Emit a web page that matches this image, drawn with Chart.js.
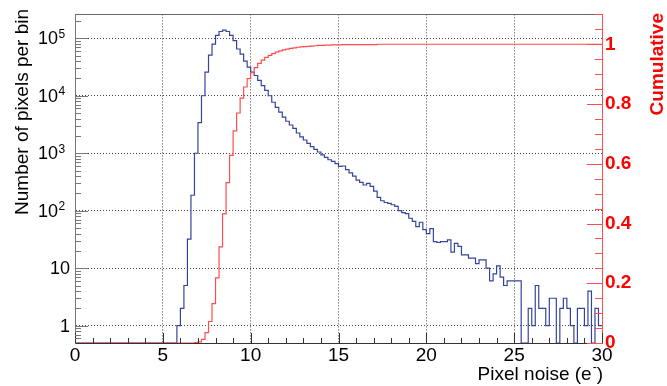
<!DOCTYPE html>
<html>
<head>
<meta charset="utf-8">
<script src="https://cdn.jsdelivr.net/npm/chart.js@4.4.1/dist/chart.umd.min.js"></script>
<style>
  html, body { margin: 0; padding: 0; background: #fff; }
  canvas { display: block; }
</style>
</head>
<body>
<canvas id="noise" width="667" height="386"></canvas>
<script>
// histogram range (pixel noise in e-), 150 bins of 0.2
const binLow = 0;
const binHigh = 30;

// number of pixels per bin
const pixelCounts = [
  0, 0, 0, 0, 0, 0, 0, 0, 0, 0,
  0, 0, 0, 0, 0, 0, 0, 0, 0, 0,
  0, 0, 0, 0, 0, 0, 0, 0, 0, 1,
  2, 5, 32, 186, 1000, 3400, 10000, 25700, 51000, 79000,
  112000, 131000, 139000, 131000, 112000, 91000, 65000, 53000, 40000, 31500,
  25700, 22500, 18500, 15000, 12400, 10000, 7700, 6300, 5200, 4250,
  3600, 3100, 2700, 2250, 1930, 1700, 1480, 1300, 1170, 1050,
  940, 850, 770, 720, 660, 590, 600, 520, 455, 400,
  340, 310, 280, 300, 265, 220, 170, 149, 139, 134,
  127, 119, 100, 93, 89, 74, 65, 53, 63, 47,
  40, 49, 29, 28, 29, 29, 31, 19, 27, 24,
  17, 17, 15, 15, 12, 14, 14, 10, 6, 8,
  11, 7, 5, 6, 6, 6, 6, 0, 0, 2,
  1, 5, 2, 2, 1, 3, 3, 0, 2, 3,
  2, 1, 0, 2, 2, 1, 4, 0, 2, 1
];

// cumulative fraction
const cumulative = [
  0, 0, 0, 0, 0, 0, 0, 0, 0, 0,
  0, 0, 0, 0, 0, 0, 0, 0, 0, 0,
  0, 0, 0, 0, 0, 0, 0, 0, 0, 0,
  0, 0, 0, 0, 0.001, 0.004, 0.012, 0.035, 0.072, 0.132,
  0.218, 0.322, 0.432, 0.537, 0.628, 0.71, 0.77, 0.82, 0.857, 0.885,
  0.905, 0.922, 0.936, 0.947, 0.956, 0.963, 0.969, 0.974, 0.978, 0.981,
  0.984, 0.986, 0.988, 0.99, 0.991, 0.992, 0.993, 0.994, 0.995, 0.996,
  0.996, 0.997, 0.997, 0.998, 0.998, 0.998, 0.999, 0.999, 0.999, 0.999,
  0.999, 0.999, 0.999, 0.999, 0.999, 0.999, 1, 1, 1, 1,
  1, 1, 1, 1, 1, 1, 1, 1, 1, 1,
  1, 1, 1, 1, 1, 1, 1, 1, 1, 1,
  1, 1, 1, 1, 1, 1, 1, 1, 1, 1,
  1, 1, 1, 1, 1, 1, 1, 1, 1, 1,
  1, 1, 1, 1, 1, 1, 1, 1, 1, 1,
  1, 1, 1, 1, 1, 1, 1, 1, 1, 1
];

const noiseTicks = [0, 5, 10, 15, 20, 25, 30];
const countTicks = [1, 10, 100, 1000, 10000, 100000];
const cumulativeTicks = [0, 0.2, 0.4, 0.6, 0.8, 1];

const countMin = 0.5;
const countMax = 2.6e5;
const FONT = "'Liberation Sans', Arial, Helvetica, sans-serif";
const BLUE = '#34449a';
const RED = '#ff4d4d';
const LABEL_RED = '#ff0000';

const binWidth = (binHigh - binLow) / pixelCounts.length;

// points at the low edge of each bin + closing point at the upper edge
function histPoints(values, floor) {
  const pts = values.map((v, i) => ({ x: binLow + i * binWidth, y: v > 0 ? v : floor }));
  pts.push({ x: binHigh, y: pts[pts.length - 1].y });
  return pts;
}

function line(ctx, x1, y1, x2, y2) {
  ctx.beginPath();
  ctx.moveTo(x1, y1);
  ctx.lineTo(x2, y2);
  ctx.stroke();
}

// ROOT-like frame: inside ticks, superscript labels, axis titles
const rootAxes = {
  id: 'rootAxes',
  afterDraw(chart) {
    const { ctx, chartArea: a } = chart;
    const xs = chart.scales.x, ys = chart.scales.y, rs = chart.scales.y1;
    ctx.save();
    ctx.lineWidth = 1;

    ctx.strokeStyle = '#666';
    line(ctx, a.left, Math.round(a.top) + 0.5, a.right, Math.round(a.top) + 0.5);

    // bottom ticks
    ctx.strokeStyle = '#333';
    for (let v = binLow; v <= binHigh; v++) {
      const px = Math.round(xs.getPixelForValue(v)) + 0.5;
      const len = noiseTicks.includes(v) ? 10 : 5;
      line(ctx, px, a.bottom, px, a.bottom - len);
    }

    // left log ticks
    ctx.strokeStyle = '#777';
    for (let d = -1; d <= 5; d++) {
      for (let m = 1; m <= 9; m++) {
        const v = m * Math.pow(10, d);
        if (v <= countMin || v > countMax) continue;
        const py = Math.round(ys.getPixelForValue(v)) + 0.5;
        line(ctx, a.left, py, a.left + (m === 1 ? 13 : 6), py);
      }
    }

    // right cumulative ticks
    ctx.strokeStyle = RED;
    for (let k = 0; k <= 22; k++) {
      const v = k * 0.05;
      const py = Math.round(rs.getPixelForValue(v)) + 0.5;
      line(ctx, a.right, py, a.right - (k % 4 === 0 ? 15 : 7), py);
    }

    // left labels 10^n
    ctx.fillStyle = '#000';
    ctx.textBaseline = 'middle';
    countTicks.forEach((v) => {
      const py = ys.getPixelForValue(v);
      const exp = Math.round(Math.log10(v));
      ctx.font = '18px ' + FONT;
      if (exp < 2) {
        ctx.textAlign = 'right';
        ctx.fillText(String(v), 70, py + 1);
      } else {
        ctx.textAlign = 'right';
        ctx.fillText('10', 58, py + 1);
        ctx.font = '12px ' + FONT;
        ctx.textAlign = 'left';
        ctx.textBaseline = 'alphabetic';
        ctx.fillText(String(exp), 58.5, py - 0.5);
        ctx.textBaseline = 'middle';
      }
    });

    // axis titles
    ctx.textBaseline = 'alphabetic';
    ctx.font = '19px ' + FONT;
    ctx.fillStyle = '#000';
    ctx.save();
    ctx.translate(28, 9);
    ctx.rotate(-Math.PI / 2);
    ctx.textAlign = 'right';
    ctx.fillText('Number of pixels per bin', 0, 0);
    ctx.restore();

    ctx.save();
    ctx.font = 'bold 19px ' + FONT;
    ctx.fillStyle = LABEL_RED;
    ctx.translate(663, 13);
    ctx.rotate(-Math.PI / 2);
    ctx.textAlign = 'right';
    ctx.fillText('Cumulative', 0, 0);
    ctx.restore();

    // x title with superscript minus
    const right = 603, base = 380;
    ctx.textAlign = 'right';
    ctx.font = '19px ' + FONT;
    const wClose = ctx.measureText(')').width;
    ctx.fillText(')', right, base);
    ctx.font = '12px ' + FONT;
    const wSup = ctx.measureText('-').width + 1;
    ctx.fillText('-', right - wClose, base - 9);
    ctx.font = '19px ' + FONT;
    ctx.fillText('Pixel noise (e', right - wClose - wSup, base);

    ctx.restore();
  }
};

const canvas = document.getElementById('noise');

new Chart(canvas, {
  type: 'line',
  plugins: [rootAxes],
  data: {
    datasets: [
      {
        label: 'Cumulative',
        data: histPoints(cumulative, 0),
        yAxisID: 'y1',
        borderColor: RED,
        borderWidth: 1.2,
        stepped: 'before',
        pointRadius: 0,
        fill: false
      },
      {
        label: 'Pixels',
        data: histPoints(pixelCounts, countMin),
        yAxisID: 'y',
        borderColor: BLUE,
        borderWidth: 1.2,
        stepped: 'before',
        pointRadius: 0,
        fill: false
      }
    ]
  },
  options: {
    responsive: false,
    devicePixelRatio: 1,
    animation: false,
    layout: { padding: { top: 13, left: 0, right: 0, bottom: 0 } },
    plugins: { legend: { display: false }, tooltip: { enabled: false } },
    scales: {
      x: {
        type: 'linear',
        min: binLow,
        max: binHigh,
        afterBuildTicks: (s) => { s.ticks = noiseTicks.map((v) => ({ value: v })); },
        afterFit: (s) => { s.height = 43; },
        ticks: {
          font: { family: FONT, size: 19 },
          color: '#000',
          padding: 1,
          maxRotation: 0,
          autoSkip: false
        },
        grid: {
          color: (c) => (c.tick && (c.tick.value === binLow || c.tick.value === binHigh)) ? 'rgba(0,0,0,0)' : '#444',
          drawTicks: false
        },
        border: { color: '#333', dash: [1, 2] }
      },
      y: {
        type: 'logarithmic',
        position: 'left',
        min: countMin,
        max: countMax,
        afterBuildTicks: (s) => { s.ticks = countTicks.map((v) => ({ value: v, major: true })); },
        afterFit: (s) => { s.width = 75; },
        ticks: { display: false },
        grid: { color: '#444', drawTicks: false },
        border: { color: '#777', dash: [1, 2] }
      },
      y1: {
        type: 'linear',
        position: 'right',
        min: 0,
        max: 1.1,
        afterBuildTicks: (s) => { s.ticks = cumulativeTicks.map((v) => ({ value: v })); },
        afterFit: (s) => { s.width = 65; },
        ticks: {
          font: { family: FONT, size: 19, weight: 'bold' },
          color: LABEL_RED,
          padding: 3,
          callback: (v) => String(Math.round(v * 10) / 10)
        },
        grid: { drawOnChartArea: false, drawTicks: false },
        border: { color: RED }
      }
    }
  }
});
</script>
</body>
</html>
